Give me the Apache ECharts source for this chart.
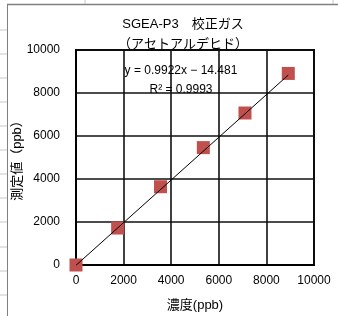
<!DOCTYPE html>
<html>
<head>
<meta charset="utf-8">
<script src="https://cdn.jsdelivr.net/npm/echarts@6/dist/echarts.min.js"></script>
<style>
  html, body { margin: 0; padding: 0; background: #fff; }
  #chart { width: 338px; height: 316px; }
</style>
</head>
<body>
<div id="chart"></div>
<script>
// measured points (concentration vs. measured value, ppb)
const conc = [0, 1750, 3550, 5350, 7100, 8920];
const measured = [0, 1720, 3640, 5460, 7070, 8910];
const slope = 0.9922, icept = -14.481;
const sheetRows = [30, 54, 78, 102, 126, 150, 174, 198, 222, 247, 271, 295];

const font = '"Liberation Sans", Arial, "Noto Sans CJK JP", sans-serif';
const chart = echarts.init(document.getElementById('chart'), null, { renderer: 'canvas' });

const xEnd = conc[conc.length - 1];
const fit = [[0, icept], [xEnd, slope * xEnd + icept]];

// spreadsheet cell lines behind the chart object
const sheet = sheetRows.map(y => ({ type: 'line', z: -1,
  shape: { x1: 0, y1: y, x2: 7, y2: y }, style: { stroke: '#c8c8c8', lineWidth: 1 } }));
sheet.push({ type: 'line', shape: { x1: 85, y1: 0, x2: 85, y2: 4 }, style: { stroke: '#c8c8c8' } });
sheet.push({ type: 'line', shape: { x1: 333, y1: 0, x2: 333, y2: 4 }, style: { stroke: '#c8c8c8' } });
sheet.push({ type: 'line', shape: { x1: 7.5, y1: 4.5, x2: 7.5, y2: 316 }, style: { stroke: '#808080', lineWidth: 1 } });
sheet.push({ type: 'line', shape: { x1: 7, y1: 4.5, x2: 338, y2: 4.5 }, style: { stroke: '#808080', lineWidth: 1.5 } });

chart.setOption({
  backgroundColor: '#fff',
  animation: false,
  textStyle: { fontFamily: font },
  title: [{
    text: 'SGEA-P3　校正ガス\n（アセトアルデヒド）',
    left: 178, top: 9, textAlign: 'center',
    textStyle: { fontSize: 13, fontWeight: 'normal', color: '#000', lineHeight: 20, fontFamily: font }
  }, {
    text: 'y = 0.9922x − 14.481\nR² = 0.9993',
    left: 176, top: 56, textAlign: 'center',
    textStyle: { fontSize: 12, fontWeight: 'normal', color: '#000', lineHeight: 19, fontFamily: font }
  }],
  grid: { left: 76, right: 24, top: 50, bottom: 51, show: true, containLabel: false,
    outerBoundsMode: 'none',
    borderColor: '#000', borderWidth: 2, backgroundColor: 'transparent' },
  xAxis: {
    type: 'value', min: 0, max: 10000, interval: 2000,
    name: '濃度(ppb)', nameLocation: 'middle', nameGap: 34, nameMoveOverlap: false,
    nameTextStyle: { fontSize: 13, color: '#000' },
    axisLine: { show: true, lineStyle: { color: '#000', width: 2 } },
    axisTick: { show: false },
    axisLabel: { color: '#000', fontSize: 12, margin: 10, formatter: v => String(v) },
    splitLine: { show: true, lineStyle: { color: '#111', width: 1.6 } }
  },
  yAxis: {
    type: 'value', min: 0, max: 10000, interval: 2000,
    name: '測定値（ppb）', nameLocation: 'middle', nameGap: 52, nameRotate: 90,
    nameMoveOverlap: false,
    nameTextStyle: { fontSize: 13, color: '#000' },
    axisLine: { show: true, lineStyle: { color: '#000', width: 2 } },
    axisTick: { show: false },
    axisLabel: { color: '#000', fontSize: 12, margin: 16, formatter: v => String(v) },
    splitLine: { show: true, lineStyle: { color: '#111', width: 1.6 } }
  },
  series: [
    { type: 'line', data: fit, showSymbol: false, z: 3,
      lineStyle: { color: '#000', width: 1 } },
    { type: 'scatter', data: conc.map((x, i) => [x, measured[i]]), z: 2,
      symbol: 'rect', symbolSize: 13, itemStyle: { color: '#C0504D', opacity: 1 } }
  ],
  graphic: sheet
});
</script>
</body>
</html>
